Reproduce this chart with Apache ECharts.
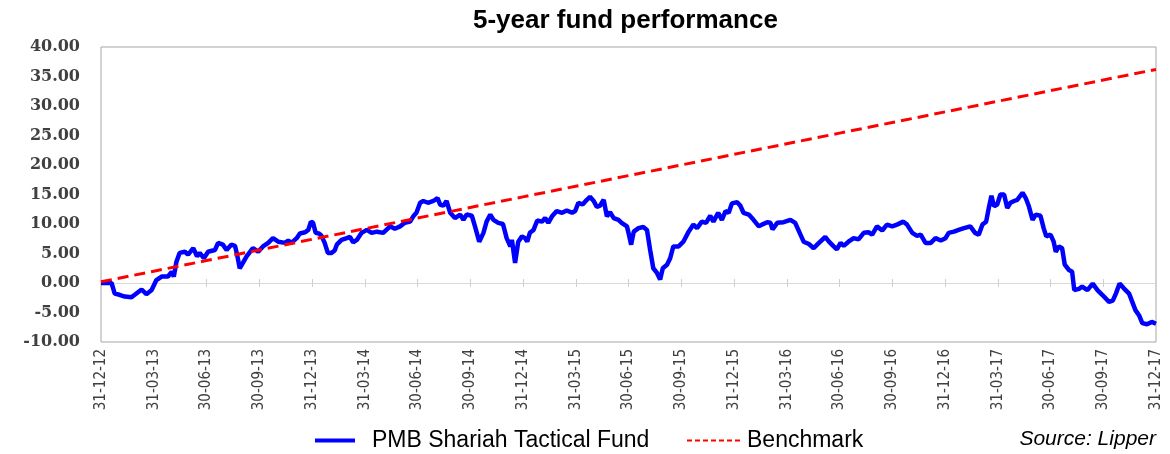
<!DOCTYPE html>
<html>
<head>
<meta charset="utf-8">
<script src="https://cdn.jsdelivr.net/npm/echarts@6/dist/echarts.min.js"></script>
<style>html,body{margin:0;padding:0;background:#fff;}#c{width:1170px;height:454px;}</style>
</head>
<body>
<div id="c"></div>
<script>
var tickLabels = ["31-12-12","31-03-13","30-06-13","30-09-13","31-12-13","31-03-14","30-06-14","30-09-14","31-12-14","31-03-15","30-06-15","30-09-15","31-12-15","31-03-16","30-06-16","30-09-16","31-12-16","31-03-17","30-06-17","30-09-17","31-12-17"];

// fund: position in quarters since 31-12-12, cumulative return (%)
var fundQ = [0.00,0.20,0.26,0.35,0.45,0.58,0.64,0.77,0.86,0.96,1.05,1.15,1.27,1.34,1.38,1.43,1.49,1.59,1.65,1.75,1.82,1.87,1.95,2.03,2.16,2.22,2.31,2.38,2.47,2.54,2.58,2.63,2.69,2.76,2.88,2.98,3.07,3.17,3.26,3.36,3.49,3.55,3.61,3.71,3.77,3.87,3.93,3.98,4.02,4.07,4.13,4.18,4.24,4.30,4.37,4.43,4.47,4.56,4.66,4.72,4.78,4.85,4.94,5.04,5.13,5.23,5.35,5.48,5.57,5.67,5.76,5.86,5.92,5.98,6.05,6.11,6.20,6.30,6.38,6.43,6.49,6.55,6.62,6.71,6.81,6.87,6.93,7.03,7.09,7.17,7.25,7.31,7.38,7.44,7.53,7.62,7.69,7.76,7.79,7.85,7.91,7.98,8.04,8.08,8.13,8.20,8.27,8.36,8.42,8.48,8.55,8.64,8.74,8.83,8.93,8.99,9.05,9.13,9.21,9.27,9.34,9.40,9.46,9.53,9.59,9.65,9.72,9.81,9.87,9.97,10.00,10.05,10.10,10.19,10.28,10.35,10.41,10.47,10.54,10.60,10.65,10.73,10.79,10.85,10.95,11.04,11.14,11.23,11.30,11.39,11.47,11.55,11.61,11.70,11.77,11.84,11.90,11.96,12.06,12.12,12.18,12.28,12.37,12.47,12.53,12.63,12.69,12.73,12.82,12.94,13.07,13.16,13.26,13.32,13.42,13.51,13.61,13.73,13.80,13.89,13.95,14.02,14.08,14.17,14.27,14.36,14.46,14.55,14.62,14.71,14.81,14.90,15.00,15.09,15.21,15.28,15.38,15.47,15.54,15.63,15.73,15.82,15.92,16.01,16.07,16.17,16.26,16.36,16.48,16.57,16.64,16.71,16.78,16.83,16.88,16.93,16.99,17.05,17.12,17.18,17.24,17.31,17.37,17.47,17.53,17.59,17.66,17.72,17.81,17.87,17.92,18.00,18.06,18.10,18.16,18.22,18.27,18.35,18.41,18.45,18.54,18.60,18.70,18.80,18.89,18.98,19.11,19.18,19.24,19.31,19.39,19.49,19.55,19.61,19.68,19.74,19.83,19.92,20.00];
var fundVal = [0.0,0.0,-1.8,-2.0,-2.3,-2.4,-2.0,-1.1,-1.9,-1.2,0.5,1.1,1.1,1.9,1.1,3.6,5.1,5.3,4.8,5.9,4.5,5.1,4.2,5.3,5.6,6.8,6.5,5.6,6.5,6.3,4.8,2.5,3.4,4.5,5.9,5.3,6.2,6.8,7.6,7.0,6.8,7.2,6.8,7.6,8.4,8.6,9.0,10.4,10.2,8.5,8.4,8.0,6.8,5.1,5.1,5.5,6.5,7.3,7.6,7.8,6.9,7.3,8.5,9.0,8.5,8.7,8.5,9.6,9.2,9.6,10.2,10.4,11.3,11.9,13.6,13.9,13.6,13.9,14.4,13.3,13.1,13.9,11.9,11.0,11.6,10.7,11.6,11.4,9.6,7.0,8.5,10.4,11.6,10.7,10.2,10.0,7.6,6.2,7.3,3.4,7.0,7.9,7.6,7.0,8.5,9.0,10.6,10.4,11.0,10.2,11.3,12.2,11.9,12.3,11.9,12.2,13.6,13.3,14.1,14.6,13.9,12.9,13.1,14.1,11.3,12.0,11.0,10.7,10.2,9.6,8.5,6.5,8.7,9.3,9.5,9.0,5.6,2.5,1.7,0.6,2.5,3.1,4.2,6.2,6.2,7.0,8.7,9.9,9.3,10.4,10.2,11.4,10.4,11.9,10.7,12.2,11.9,13.5,13.7,13.1,11.9,11.6,10.7,9.6,9.9,10.3,10.2,9.1,10.2,10.3,10.7,10.2,8.2,7.0,6.6,5.9,6.8,7.8,7.0,6.2,5.7,6.8,6.3,7.0,7.6,7.4,8.5,8.6,8.2,9.6,8.9,9.9,9.6,9.9,10.4,9.9,8.5,8.0,8.2,6.8,6.8,7.6,7.2,7.6,8.5,8.7,9.0,9.3,9.6,8.5,8.2,9.9,10.4,12.7,14.8,13.0,13.3,15.0,15.0,12.7,13.6,13.9,14.1,15.3,14.4,13.0,10.7,11.6,11.4,9.3,7.9,8.2,7.0,5.3,6.2,5.9,3.1,2.2,1.9,-1.2,-1.0,-0.6,-1.2,-0.1,-1.2,-2.0,-3.2,-3.0,-1.8,-0.1,-0.9,-1.8,-3.2,-4.6,-5.5,-6.8,-7.0,-6.6,-6.9];

// benchmark at each quarter end
var benchVal = [0.2,2.0,3.8,5.6,7.4,9.2,11.0,12.8,14.6,16.4,18.2,20.0,21.8,23.6,25.4,27.2,29.0,30.8,32.6,34.4,36.2];

var fundName = "PMB Shariah Tactical Fund";
var benchName = "Benchmark";
var titleText = "5-year fund performance";
var sourceText = "Source: Lipper";

var fundData = fundQ.map(function (q, i) { return [q, fundVal[i]]; });
var benchData = benchVal.map(function (v, i) { return [i, v]; });

var chart = echarts.init(document.getElementById('c'), null, {renderer: 'canvas'});
var xBase = {type: 'value', min: 0, max: 20, interval: 1, gridIndex: 0};
var legendFont = 'Liberation Sans, Arial, sans-serif';
chart.setOption({
  animation: false,
  backgroundColor: '#ffffff',
  grid: {left: 101, right: 14, top: 47, bottom: 112, show: true, borderColor: '#a6a6a6', borderWidth: 1, backgroundColor: 'transparent'},
  legend: [
    {
      data: [{name: fundName, itemStyle: {opacity: 0}, lineStyle: {width: 4, color: '#0000ff'}}],
      left: 308, top: 424, itemWidth: 40, itemHeight: 14,
      textStyle: {fontFamily: legendFont, fontSize: 23, color: '#000', padding: [0, 0, 0, 12]}
    },
    {
      data: [{name: benchName, itemStyle: {opacity: 0}, lineStyle: {width: 2, color: '#ff0000', type: [5, 3]}}],
      left: 681, top: 424, itemWidth: 53, itemHeight: 14,
      textStyle: {fontFamily: legendFont, fontSize: 23, color: '#000', padding: [0, 0, 0, 2]}
    }
  ],
  xAxis: [
    Object.assign({}, xBase, {
      position: 'bottom',
      axisLine: {show: false, onZero: false},
      axisTick: {show: false},
      splitLine: {show: false},
      axisLabel: {
        rotate: 90, margin: 7, fontSize: 15, color: '#404040',
        fontFamily: 'Liberation Sans Narrow, DejaVu Sans Condensed, Arial Narrow, sans-serif',
        formatter: function (v) { return tickLabels[Math.round(v)] || ''; },
        showMinLabel: true, showMaxLabel: true
      }
    }),
    Object.assign({}, xBase, {
      axisLine: {show: true, onZero: true, onZeroAxisIndex: 0, lineStyle: {color: '#d9d9d9', width: 1}},
      axisTick: {show: true, inside: false, length: 4, lineStyle: {color: '#cfcfcf'}},
      axisLabel: {show: false},
      splitLine: {show: false}
    }),
    Object.assign({}, xBase, {
      axisLine: {show: false, onZero: true, onZeroAxisIndex: 0},
      axisTick: {show: true, inside: true, length: 4, lineStyle: {color: '#cfcfcf'}},
      axisLabel: {show: false},
      splitLine: {show: false}
    })
  ],
  yAxis: {
    type: 'value', min: -10, max: 40, interval: 5,
    axisLine: {show: false}, axisTick: {show: false}, splitLine: {show: false},
    axisLabel: {
      margin: 21, fontSize: 16, fontWeight: 'bold', color: '#404040',
      fontFamily: 'DejaVu Serif, serif',
      formatter: function (v) { return v.toFixed(2); }
    }
  },
  series: [
    {
      name: fundName, type: 'line', xAxisIndex: 0, data: fundData,
      symbol: 'none', smooth: false,
      lineStyle: {color: '#0000ff', width: 4.5}, itemStyle: {color: '#0000ff'}, z: 2
    },
    {
      name: benchName, type: 'line', xAxisIndex: 0, data: benchData,
      symbol: 'none',
      lineStyle: {color: '#ff0000', width: 3, type: [11, 6]}, itemStyle: {color: '#ff0000'}, z: 3
    }
  ],
  graphic: [
    {
      type: 'text', left: 473, top: 8,
      style: {text: titleText, font: 'bold 26px "Liberation Sans", Arial, sans-serif', fill: '#000'}
    },
    {
      type: 'text', right: 14, top: 429,
      style: {text: sourceText, font: 'italic 21px "Liberation Sans", Arial, sans-serif', fill: '#000'}
    }
  ]
});
</script>
</body>
</html>
